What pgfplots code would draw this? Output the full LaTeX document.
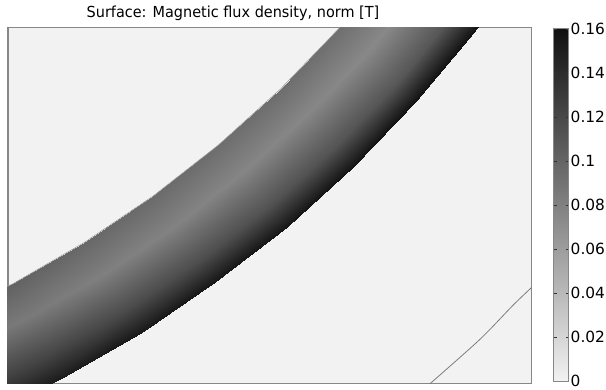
\documentclass[border=0pt]{standalone}
\usepackage{fontspec}
\setmainfont{DejaVu Sans}
\newfontfamily\titlefont{DejaVu Sans}[FakeStretch=0.95]
\usepackage{pgfplots}
\pgfplotsset{compat=1.18}
\definecolor{bgc}{RGB}{242,242,242}
\definecolor{framec}{RGB}{135,135,135}
\definecolor{edgec}{RGB}{150,150,150}
\definecolor{linec}{RGB}{125,125,125}
\begin{document}
\begin{tikzpicture}
\begin{axis}[name=ax, scale only axis, width=527pt, height=358pt,
  xmin=0, xmax=527, ymin=0, ymax=358,
  xtick=\empty, ytick=\empty,
  axis line style={draw=framec, line width=1.2pt},
  axis background/.style={fill=bgc},
  colormap={bw}{rgb255(0cm)=(242,242,242) rgb255(1cm)=(16,16,16)},
  point meta min=0, point meta max=0.16,
  title={\titlefont\fontsize{15.3}{18}\selectfont Surface: Magnetic flux density, norm [T]},
  title style={at={(0.43,1)}, anchor=base, yshift=4pt, inner sep=0pt},
  colorbar,
  colorbar style={
    at={(parent axis.north east)}, anchor=north west, xshift=14pt, yshift=-1pt,
    scale only axis, width=15pt, height=355pt,
    ytick={0,0.02,0.04,0.06,0.08,0.1,0.12,0.14,0.16},
    yticklabels={0,0.02,0.04,0.06,0.08,0.1,0.12,0.14,0.16},
    yticklabel style={font=\fontsize{15.5}{18}\selectfont, inner sep=1pt, xshift=1pt},
    axis line style={draw=framec, line width=0.8pt},
    major tick length=3pt, tick align=inside,
    tick style={black!80, line width=0.6pt},
  },
]
\addplot[surf, shader=interp, mesh/rows=9, mesh/cols=4, point meta=explicit]
  table[x=x, y=y, meta=c] {
x y c
-70.5 63.4 0.105
-55.5 29.6 0.088
-38.0 -9.7 0.125
-27.0 -34.4 0.150
4.5 100.0 0.102
21.9 67.3 0.085
42.0 29.4 0.122
54.7 5.5 0.152
76.8 141.7 0.098
96.4 110.4 0.081
119.2 73.9 0.118
133.5 51.0 0.154
146.0 188.4 0.096
167.8 158.5 0.079
193.0 123.7 0.116
208.9 101.9 0.155
211.8 239.8 0.094
235.6 211.5 0.077
263.2 178.5 0.113
280.6 157.9 0.156
273.8 295.7 0.094
299.5 269.1 0.076
329.4 238.1 0.112
348.1 218.7 0.157
331.8 355.7 0.093
359.3 331.0 0.075
391.3 302.2 0.110
411.3 284.1 0.158
385.5 419.7 0.093
414.6 396.9 0.075
448.5 370.4 0.110
469.8 353.8 0.158
434.5 487.2 0.093
465.2 466.5 0.075
500.9 442.5 0.110
523.2 427.4 0.158
};
\addplot[no marks, edgec, line width=0.6pt] coordinates {
(-70.5,63.4) (4.5,100.0) (76.8,141.7) (146.0,188.4) (211.8,239.8)
(273.8,295.7) (331.8,355.7) (385.5,419.7)};
\addplot[no marks, linec, line width=0.8pt, smooth] coordinates {
(422,-3) (475,44) (509,79) (530,99)};
\end{axis}
\path (ax.south west) ++(-8pt,-6pt);
\path (ax.north east) ++(71pt,28pt);
\end{tikzpicture}
\end{document}
